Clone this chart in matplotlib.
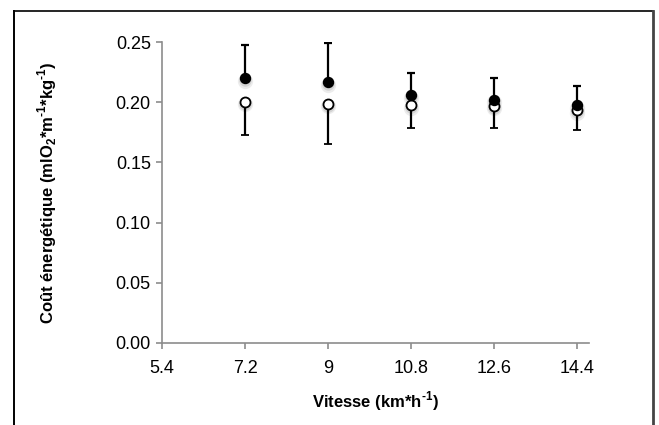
import matplotlib
matplotlib.use("Agg")
import matplotlib.pyplot as plt
from matplotlib.lines import Line2D
from matplotlib import transforms

plt.rcParams['font.family'] = ['Liberation Sans', 'DejaVu Sans']
plt.rcParams['mathtext.fontset'] = 'custom'
plt.rcParams['mathtext.rm'] = 'Liberation Sans'
plt.rcParams['mathtext.bf'] = 'Liberation Sans:bold'

# data
vitesse = [7.2, 9, 10.8, 12.6, 14.4]
cout_plein = [0.220, 0.2165, 0.2058, 0.2019, 0.1975]
err_plein = [0.0275, 0.0326, 0.0189, 0.0181, 0.0164]
cout_vide = [0.2003, 0.1986, 0.1975, 0.1970, 0.1933]
err_vide = [0.0278, 0.0330, 0.0189, 0.0187, 0.0164]

x_ticks = [5.4, 7.2, 9, 10.8, 12.6, 14.4]
x_labels = ['5.4', '7.2', '9', '10.8', '12.6', '14.4']
y_ticks = [0.00, 0.05, 0.10, 0.15, 0.20, 0.25]

fig = plt.figure(figsize=(6.59, 4.25), dpi=100)
ax = fig.add_axes([0.2458, 0.193, 0.648, 0.708])

# soft shadow under the markers
for dy, s, a in [(-2.5, 11, 0.10), (-2.0, 9, 0.15)]:
    tr = transforms.offset_copy(ax.transData, fig=fig, x=0, y=dy, units='dots')
    ax.plot(vitesse, cout_vide, 'o', ms=s, color='0.3', alpha=a, mec='none', transform=tr, zorder=1)
    ax.plot(vitesse, cout_plein, 'o', ms=s, color='0.3', alpha=a, mec='none', transform=tr, zorder=1)

ax.errorbar(vitesse, cout_vide, yerr=[err_vide, [0] * 5], fmt='o', ms=7.2,
            mfc='white', mec='black', mew=1.3, ecolor='black', elinewidth=1.6,
            capsize=3.2, capthick=1.6, zorder=3)
ax.errorbar(vitesse, cout_plein, yerr=[[0] * 5, err_plein], fmt='o', ms=7.2,
            mfc='black', mec='black', ecolor='black', elinewidth=1.6,
            capsize=3.2, capthick=1.6, zorder=4)

ax.set_xlim(5.4, 14.65)
ax.set_ylim(0, 0.25)
ax.set_xticks(x_ticks)
ax.set_xticklabels(x_labels)
ax.set_yticks(y_ticks)
ax.set_yticklabels(['%.2f' % v for v in y_ticks])

for side in ['top', 'right']:
    ax.spines[side].set_visible(False)
for side in ['left', 'bottom']:
    ax.spines[side].set_color('#8c8c8c')
    ax.spines[side].set_linewidth(1.2)
ax.tick_params(axis='both', colors='#8c8c8c', labelcolor='black', labelsize=13,
               length=4, width=1.2, direction='out')
ax.tick_params(axis='x', pad=8)
ax.tick_params(axis='y', pad=4)

ax.set_xlabel('Vitesse (km*h$^{\\mathbf{\u20101}}$)', fontsize=12, fontweight='bold', labelpad=9)
ax.set_ylabel('Coût énergétique (mlO$_{\\mathbf{2}}$*m$^{\\mathbf{\u20101}}$*kg$^{\\mathbf{\u20101}}$)',
              fontsize=12, fontweight='bold', va='center')
ax.yaxis.set_label_coords(-0.269, 0.5)

# chart frame
W, H = 659, 425
fig.add_artist(Line2D([14 / W, 14 / W], [0, 1 - 11 / H], color='black', lw=1.4))
fig.add_artist(Line2D([14 / W, 653 / W], [1 - 11 / H, 1 - 11 / H], color='black', lw=1.2))
fig.add_artist(Line2D([653 / W, 653 / W], [0, 1 - 11 / H], color='#444444', lw=2.0))

fig.savefig('out.png', dpi=100)
